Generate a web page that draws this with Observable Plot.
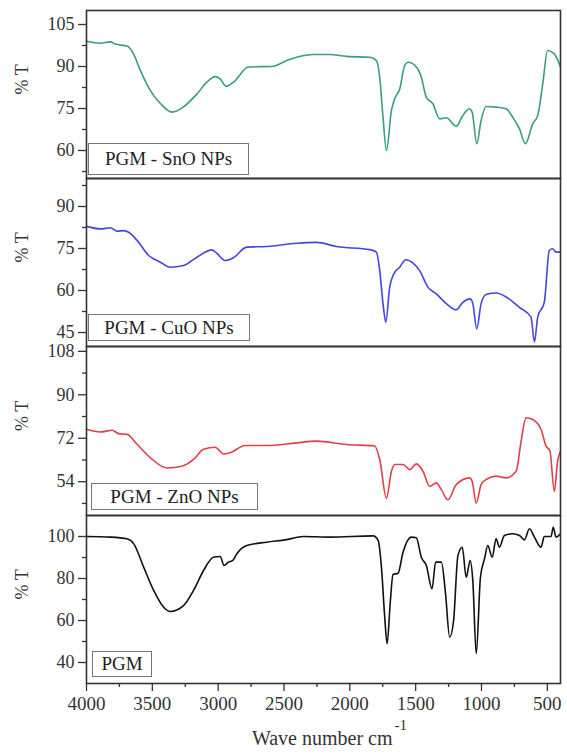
<!DOCTYPE html>
<html>
<head>
<meta charset="utf-8">
<script src="https://cdn.jsdelivr.net/npm/d3@7"></script>
<script src="https://cdn.jsdelivr.net/npm/@observablehq/plot@0.6"></script>
<style>
  html, body { margin: 0; padding: 0; background: #fff; }
  #wrap { position: relative; width: 567px; }
  #wrap svg { display: block; }
  .lg { position: absolute; box-sizing: border-box; border: 1px solid #777; background: #fff;
        font-family: "Liberation Serif"; font-size: 19px; color: #222;
        display: flex; align-items: center; justify-content: center; white-space: nowrap; }
</style>
</head>
<body>
<div id="wrap"></div>
<script>
// ---- Data (wavenumber cm^-1, %T) ----
const snoWn = [4000,3894,3818,3780,3692,3644,3591,3515,3439,3350,3265,3161,3086,3023,2985,2939,2884,2770,2581,2480,2404,2278,2152,2025,1848,1798,1773,1748,1722,1684,1659,1621,1583,1558,1495,1457,1419,1369,1318,1267,1192,1142,1091,1071,1036,1003,965,889,813,763,712,667,611,573,535,498,447,400];
const snoT  = [99,98.3,98.8,98,97.3,94.6,88.6,81.4,76.8,73.7,75.5,80.2,84.4,86.4,85.6,82.9,84.4,89.8,90.1,92.1,93.3,94.3,94.3,93.6,93.3,92.1,86.2,71.9,60,74.3,78.5,82,90.4,91.5,89.8,86.2,79,76.7,71.3,71.7,68.6,72.5,74.9,73.7,62.4,70.7,75.7,75.5,74.9,71.9,67.8,62.4,69.5,72.5,83.8,95.7,94.5,89.8];

const cuoWn = [4000,3894,3818,3768,3717,3679,3616,3528,3439,3364,3263,3161,3048,3010,2947,2884,2783,2631,2404,2252,2101,1848,1798,1773,1748,1727,1697,1659,1621,1576,1520,1470,1407,1343,1267,1192,1142,1086,1066,1036,1003,965,889,813,712,624,598,573,523,485,460,434,400];
const cuoT  = [82.9,82,82.4,81.2,81.4,80.8,77.9,72.5,70.1,68.3,68.9,71.9,74.5,73.3,70.7,71.7,75.5,75.7,76.9,77.2,75.7,74.6,73.7,67.1,55.3,48.7,61.2,66.5,68.3,71,69.8,67.1,61.2,58.8,55.3,53.1,55.8,57,55.3,46.3,55.3,58.6,59.1,57.7,54,50.5,41.6,50.5,55.8,74.3,74.9,73.7,73.7];

const znoWn = [4000,3894,3805,3755,3692,3616,3515,3389,3275,3187,3111,3023,2960,2909,2795,2631,2404,2252,2025,1811,1773,1722,1684,1659,1596,1545,1495,1444,1394,1343,1305,1255,1192,1091,1071,1040,1003,965,889,813,737,699,662,611,548,510,480,447,422,400];
const znoT  = [75.7,74.6,75.3,73.9,73.6,69.5,63.9,59.7,60.4,63.2,67.4,68.3,65.5,66,69,69,70.1,70.8,69.4,68.8,63.2,47.2,58.3,61.1,61.1,59,61.4,58.3,52.1,53.5,50.7,46.5,52.8,55.6,54.2,45.1,52.8,54.9,56.3,55.6,58.3,70.8,80.5,79.8,75.7,68.8,66.7,50,62.5,66.7];

const pgmWn = [4000,3818,3692,3641,3566,3490,3414,3364,3263,3187,3111,3036,2985,2955,2922,2889,2858,2783,2631,2480,2354,2152,1823,1785,1760,1735,1717,1692,1672,1634,1596,1533,1495,1457,1419,1376,1348,1305,1273,1242,1212,1179,1146,1116,1086,1066,1040,1008,977,952,919,889,864,826,763,712,674,636,598,548,523,472,455,434,400];
const pgmT  = [100,99.7,98.9,96.5,85.4,74.3,66.3,64.3,67.1,74.3,83.8,90.1,90.5,86.2,87.8,88.6,91.8,95.7,97.3,98.5,100,99.7,100.3,98.1,85.4,61.6,48.9,69.5,81.9,82.5,92.5,99.7,99.4,90.1,86.2,75.1,87.8,87.8,72.7,52.1,60,91,94.9,80.6,88.6,79,44.2,80.6,89.4,95.7,90.1,98.9,94.9,100.5,101.3,100.5,98.4,103.7,99.7,94.9,100,100,104.4,99.7,101.3];

const panelLabels = ["PGM - SnO NPs", "PGM - CuO NPs", "PGM - ZnO NPs", "PGM"];
const panelColors = ["#3a9f78", "#4646dc", "#e0404a", "#111111"];
const yDomains = [[50,110],[40,100],[40,110],[30,110]];
const yMajor = [[60,75,90,105],[45,60,75,90],[54,72,90,108],[40,60,80,100]];
const yMinor = [[52.5,67.5,82.5,97.5],[52.5,67.5,82.5,97.5],[45,63,81,99],[50,70,90]];
const xMajor = [500,1000,1500,2000,2500,3000,3500,4000];
const xMinor = [750,1250,1750,2250,2750,3250,3750];
const xLabel = "Wave number cm";
const xLabelSup = "-1";
const yLabel = "% T";

const series = [[snoWn,snoT],[cuoWn,cuoT],[znoWn,znoT],[pgmWn,pgmT]];

// ---- layout ----
const heights = [178,168,169,241];
const margins = [[10,0],[0,0],[0,0],[0,73]];
const legendBoxes = [
  {left:88, top:143, w:161, h:32},
  {left:88, top:314, w:162, h:27},
  {left:91, top:483, w:167, h:27},
  {left:92, top:651, w:60, h:26}
];

const wrap = document.getElementById("wrap");
const font = "Liberation Serif";

series.forEach(([wn, t], i) => {
  const data = wn.map((w, k) => ({w, t: t[k]}));
  const last = i === 3;
  const marks = [
    Plot.axisY({ticks: yMajor[i], tickSize: 8, tickPadding: 4, label: null, stroke: "#333", strokeWidth: 1.3, fill: "#333", fontFamily: font, fontSize: 18}),
    Plot.axisY({ticks: yMinor[i], tickSize: 4, tickFormat: () => "", label: null, stroke: "#333", strokeWidth: 1.3}),
    Plot.line(data, {x: "w", y: "t", stroke: panelColors[i], strokeWidth: 1.6, curve: "monotone-x"}),
    Plot.frame({stroke: "#333", strokeWidth: 1.6}),
    Plot.text([yLabel], {frameAnchor: "left", dx: -64, rotate: -90, fontSize: 18, fontFamily: font, fill: "#333"})
  ];
  if (last) {
    marks.push(
      Plot.axisX({ticks: xMajor, tickSize: 8, tickPadding: 5, tickFormat: d3.format("d"), label: null, stroke: "#333", strokeWidth: 1.3, fill: "#333", fontFamily: font, fontSize: 19}),
      Plot.axisX({ticks: xMinor, tickSize: 4, tickFormat: () => "", label: null, stroke: "#333", strokeWidth: 1.3}),
      Plot.text([xLabel], {frameAnchor: "bottom", dx: 69, dy: 61, textAnchor: "end", fontSize: 20, fontFamily: font, fill: "#333"}),
      Plot.text([xLabelSup], {frameAnchor: "bottom", dx: 71, dy: 46, textAnchor: "start", fontSize: 15, fontFamily: font, fill: "#333"})
    );
  } else {
    marks.push(Plot.axisX({ticks: [], label: null}));
  }
  const chart = Plot.plot({
    width: 567,
    height: heights[i],
    marginLeft: 86,
    marginRight: 7,
    marginTop: margins[i][0],
    marginBottom: margins[i][1],
    x: {domain: [4000, 400]},
    y: {domain: yDomains[i]},
    style: {fontFamily: font, fontSize: "17px", color: "#333", background: "transparent", overflow: "visible"},
    marks
  });
  wrap.appendChild(chart);
});

legendBoxes.forEach((b, i) => {
  const d = document.createElement("div");
  d.className = "lg";
  d.style.left = b.left + "px";
  d.style.top = b.top + "px";
  d.style.width = b.w + "px";
  d.style.height = b.h + "px";
  d.textContent = panelLabels[i];
  wrap.appendChild(d);
});
</script>
</body>
</html>
